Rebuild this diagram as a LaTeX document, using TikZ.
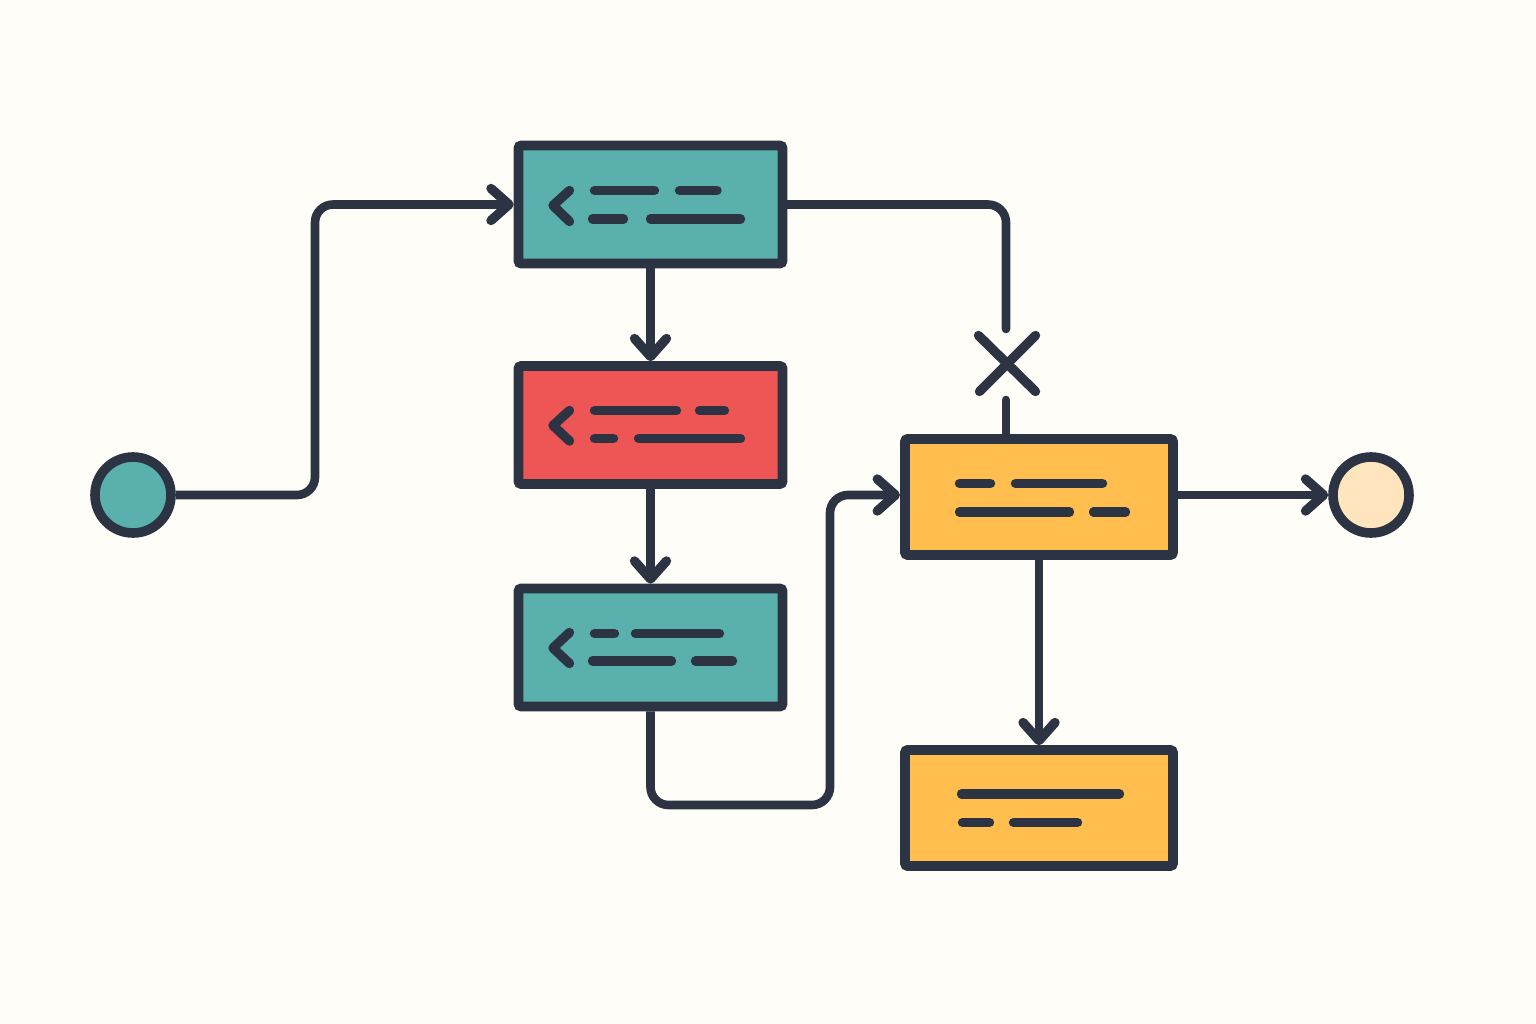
\documentclass[tikz,border=0pt]{standalone}
\usetikzlibrary{arrows.meta}
\definecolor{bgc}{HTML}{FFFDF8}
\definecolor{ink}{HTML}{2C3444}
\definecolor{teal1}{HTML}{5AB0AC}
\definecolor{red1}{HTML}{EE5555}
\definecolor{yel1}{HTML}{FFBE4D}
\definecolor{cream1}{HTML}{FFE5BD}
\tikzset{
  x=1pt,y=-1pt,
  boxn/.style={draw=ink,line width=9.6pt,rectangle,rounded corners=2.5pt,inner sep=0pt,minimum height=118pt,minimum width=264pt},
  widebox/.style={boxn,minimum width=268pt,minimum height=116pt},
  circn/.style={draw=ink,line width=9.6pt,circle,inner sep=0pt,minimum size=76pt},
  conn/.style={draw=ink,line width=8.6pt,rounded corners=18pt},
  arr/.style={conn,-{Straight Barb[length=18pt,width=32pt,line width=9.4pt,round]}},
  dash1/.style={draw=ink,line width=9.4pt,line cap=round},
  chev/.style={draw=ink,line width=9.4pt,line cap=round,line join=round}
}
\begin{document}
\begin{tikzpicture}
\useasboundingbox[fill=bgc] (0,0) rectangle (1536,1024);
% nodes
\node[circn,fill=teal1] (start) at (133,495) {};
\node[circn,fill=cream1] (finish) at (1371,495) {};
\node[boxn,fill=teal1] (a) at (650.5,204.5) {};
\node[boxn,fill=red1] (b) at (650.5,425) {};
\node[boxn,fill=teal1] (c) at (650.5,647.5) {};
\node[widebox,fill=yel1] (d) at (1039,497) {};
\node[widebox,fill=yel1] (e) at (1039,808) {};
% free ends
\coordinate (xtop) at (1006,329);
\coordinate (xbot) at (1006,400);
\coordinate (dtop) at (1006,434);
\coordinate (din) at (900,495);
\coordinate (dout) at (1178,495);
% connectors
\draw[arr] (start.east) -- (315,495) -- (315,204.5) -- (a.west);
\draw[arr] (a.south) -- (b.north);
\draw[arr] (b.south) -- (c.north);
\draw[arr] (c.south) -- (650.5,805) -- (830,805) -- (830,495) -- (din);
\draw[arr] (dout) -- (finish.west);
\draw[arr] (d.south) -- (e.north);
\draw[conn,line cap=round] (a.east) -- (1006,204.5) -- (xtop);
\draw[conn,line cap=round] (xbot) -- (dtop);
% cross
\draw[chev] (978.5,335.5) -- (1035.5,391.5);
\draw[chev] (1035.5,335.5) -- (979.5,391.5);
% box a glyphs
\draw[chev] (569.5,190.5) -- (553,205.5) -- (569.5,221.5);
\draw[dash1] (594.5,190.5) -- (654.5,190.5);
\draw[dash1] (679.5,190.5) -- (717,190.5);
\draw[dash1] (592.5,219) -- (623.5,219);
\draw[dash1] (650.5,219) -- (740.5,219);
% box b glyphs
\draw[chev] (569.5,410.5) -- (553,425.5) -- (569.5,441);
\draw[dash1] (594.5,410.5) -- (676.5,410.5);
\draw[dash1] (699.5,410.5) -- (724.5,410.5);
\draw[dash1] (594.5,438.5) -- (613.5,438.5);
\draw[dash1] (638.5,438.5) -- (740.5,438.5);
% box c glyphs
\draw[chev] (569.5,632.5) -- (553,648) -- (569.5,663.5);
\draw[dash1] (594.5,633.5) -- (614.5,633.5);
\draw[dash1] (635.5,633.5) -- (719.5,633.5);
\draw[dash1] (592.5,661) -- (671.5,661);
\draw[dash1] (695.5,661) -- (732.5,661);
% box d glyphs
\draw[dash1] (959.5,483.5) -- (990.5,483.5);
\draw[dash1] (1015.5,483.5) -- (1102.5,483.5);
\draw[dash1] (959.5,512) -- (1069.5,512);
\draw[dash1] (1093.5,512) -- (1125.5,512);
% box e glyphs
\draw[dash1] (961.5,794) -- (1119.5,794);
\draw[dash1] (962.5,822.5) -- (989.5,822.5);
\draw[dash1] (1013.5,822.5) -- (1077.5,822.5);
\end{tikzpicture}
\end{document}
